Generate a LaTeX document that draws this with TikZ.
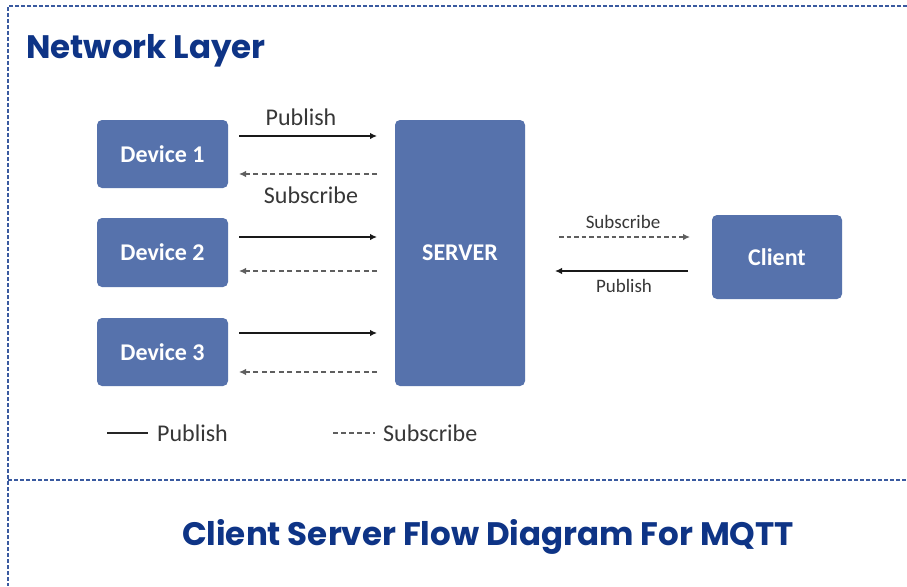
\documentclass[tikz,border=0pt]{standalone}
\usepackage{fontspec}
\setmainfont{Carlito}
\newfontfamily\headfont{Poppins}
\usetikzlibrary{arrows.meta}
\definecolor{boxblue}{RGB}{86,114,172}
\definecolor{navy}{RGB}{14,52,134}
\definecolor{frameblue}{RGB}{58,90,160}
\definecolor{labelgray}{RGB}{55,55,55}
\definecolor{dashgray}{RGB}{95,95,95}
\tikzset{
  unitbox/.style={draw=none, fill=boxblue, rounded corners=5pt, text=white,
    font=\fontsize{24}{28}\selectfont\bfseries, inner sep=0pt},
  pubarrow/.style={line width=2.2pt, draw=black!90, -{Latex[length=7pt,width=6.5pt]}},
  subarrow/.style={line width=1.7pt, draw=dashgray, dash pattern=on 5pt off 3.5pt,
    -{Latex[length=7pt,width=6.5pt]}},
  arrowlabel/.style={text=labelgray, font=\fontsize{24}{28}\selectfont, inner sep=0pt},
  smalllabel/.style={text=labelgray, font=\fontsize{19}{22}\selectfont, inner sep=0pt},
  frameline/.style={draw=frameblue, line width=1.4pt, dash pattern=on 4pt off 2pt},
  heading/.style={text=navy, font=\headfont\bfseries, inner sep=0pt}
}
\begin{document}
\begin{tikzpicture}[x=1pt,y=-1pt]
  \useasboundingbox (0,0) rectangle (907,586);
  \fill[white] (0,0) rectangle (907,586);

  % dashed frame and divider
  \draw[frameline] (907,6) -- (8,6) -- (8,586);
  \draw[frameline] (8,480) -- (907,480);

  % headings
  \node[heading, anchor=west, font=\headfont\bfseries\fontsize{32.5}{36}\selectfont] (layer) at (26,51) {Network Layer};
  \node[heading, font=\headfont\bfseries\fontsize{32.5}{36}\selectfont] (caption) at (488,537) {Client Server Flow Diagram For MQTT};

  % devices, server, client
  \node[unitbox, minimum width=131pt, minimum height=68pt] (d1) at (162.5,154) {Device 1};
  \node[unitbox, minimum width=131pt, minimum height=69pt] (d2) at (162.5,252.5) {Device 2};
  \node[unitbox, minimum width=131pt, minimum height=68pt] (d3) at (162.5,352) {Device 3};
  \node[unitbox, minimum width=130pt, minimum height=266pt] (srv) at (460,253) {SERVER};
  \node[unitbox, minimum width=130pt, minimum height=84pt] (cli) at (777,257) {Client};

  % anchor points of the device links
  \coordinate (a1) at (239,136);  \coordinate (b1) at (377,136);
  \coordinate (c1) at (239,174);  \coordinate (e1) at (377,174);
  \coordinate (a2) at (239,237);  \coordinate (b2) at (377,237);
  \coordinate (c2) at (239,271);  \coordinate (e2) at (377,271);
  \coordinate (a3) at (239,333);  \coordinate (b3) at (377,333);
  \coordinate (c3) at (239,372);  \coordinate (e3) at (377,372);

  \draw[pubarrow] (a1) -- (b1);
  \draw[subarrow] (e1) -- (c1);
  \draw[pubarrow] (a2) -- (b2);
  \draw[subarrow] (e2) -- (c2);
  \draw[pubarrow] (a3) -- (b3);
  \draw[subarrow] (e3) -- (c3);

  \node[arrowlabel] (lpub) at (301,117) {Publish};
  \node[arrowlabel] (lsub) at (311,195) {Subscribe};

  % server to client links
  \coordinate (s1) at (559,237); \coordinate (t1) at (690,237);
  \coordinate (s2) at (555,271); \coordinate (t2) at (688,271);
  \draw[subarrow, line width=1.4pt, dash pattern=on 4.5pt off 3pt] (s1) -- (t1);
  \draw[pubarrow] (t2) -- (s2);
  \node[smalllabel] (rsub) at (623,222) {Subscribe};
  \node[smalllabel] (rpub) at (624,286) {Publish};

  % legend
  \coordinate (k1) at (107,433); \coordinate (k2) at (148,433);
  \coordinate (k3) at (333,433); \coordinate (k4) at (375,433);
  \draw[line width=2.4pt, draw=black!85] (k1) -- (k2);
  \draw[line width=1.7pt, draw=dashgray, dash pattern=on 5pt off 3pt] (k3) -- (k4);
  \node[arrowlabel, anchor=west] (kpub) at (157,433) {Publish};
  \node[arrowlabel, anchor=west] (ksub) at (383,433) {Subscribe};
\end{tikzpicture}
\end{document}
